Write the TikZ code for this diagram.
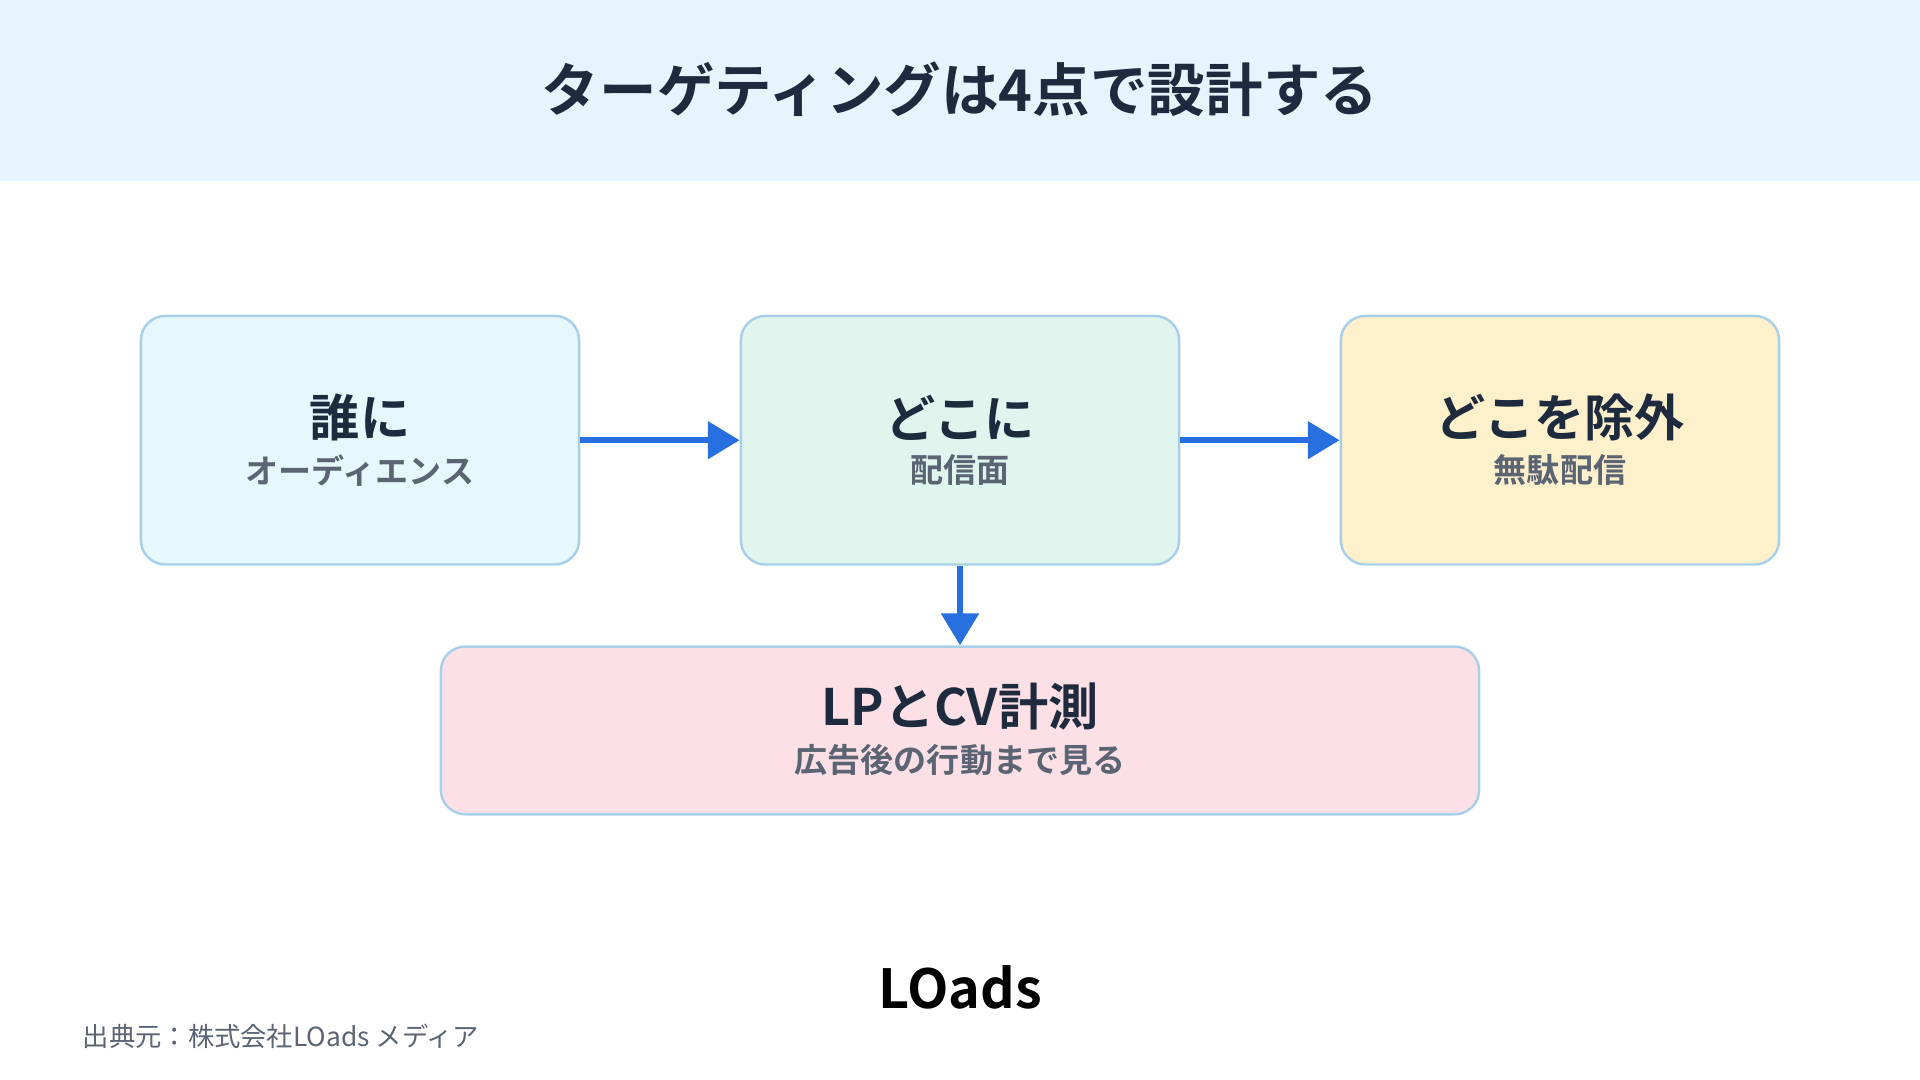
\documentclass[tikz,border=0pt]{standalone}
\usepackage{fontspec}
\newfontfamily\jpb{Noto Sans CJK JP Bold}
\newfontfamily\jp{Noto Sans CJK JP}
\usetikzlibrary{arrows.meta}
\definecolor{hdr}{HTML}{E8F4FD}
\definecolor{bd}{HTML}{A8CFEA}
\definecolor{ink}{HTML}{1E2A3E}
\definecolor{sub}{HTML}{5A6473}
\definecolor{arr}{HTML}{2870E0}
\definecolor{fa}{HTML}{E6F7FD}
\definecolor{fb}{HTML}{E0F5EE}
\definecolor{fc}{HTML}{FFF0CC}
\definecolor{fd}{HTML}{FDE0E5}
\begin{document}
\begin{tikzpicture}[x=1pt,y=-1pt,
 box/.style={draw=bd,line width=2pt,rounded corners=20pt,align=center,inner sep=0pt},
 con/.style={draw=arr,line width=5pt,-{Triangle[length=26pt,width=30pt]}},
 main/.style={font=\jpb\fontsize{41}{46}\selectfont,text=ink},
 sb/.style={font=\jpb\fontsize{27}{32}\selectfont,text=sub}]
\useasboundingbox (0,0) rectangle (1568,882);
\fill[hdr] (0,0) rectangle (1568,148);
\node[font=\jpb\fontsize{47}{52}\selectfont,text=ink] (title) at (784,73) {ターゲティングは4点で設計する};
\node[box,fill=fa,minimum width=358pt,minimum height=203pt] (a) at (294,359.5) {};
\node[box,fill=fb,minimum width=358pt,minimum height=203pt] (b) at (784,359.5) {};
\node[box,fill=fc,minimum width=358pt,minimum height=203pt] (c) at (1274,359.5) {};
\node[box,fill=fd,minimum width=848pt,minimum height=137pt] (d) at (784,596.5) {};
\node[main] (a1) at (294,341) {誰に};
\node[sb] (a2) at (294,384) {オーディエンス};
\node[main] (b1) at (784,341) {どこに};
\node[sb] (b2) at (784,384) {配信面};
\node[main] (c1) at (1274,341) {どこを除外};
\node[sb] (c2) at (1274,384) {無駄配信};
\node[main] (d1) at (784,577) {LPとCV計測};
\node[sb] (d2) at (784,621) {広告後の行動まで見る};
\draw[con] (a.east) -- (b.west);
\draw[con] (b.east) -- (c.west);
\draw[con] (b.south) -- (d.north);
\node[font=\jpb\fontsize{44}{50}\selectfont,text=black] (logo) at (784,806) {LOads};
\node[anchor=west,font=\jp\fontsize{21.5}{26}\selectfont,text=sub] (src) at (64,846) {出典元：株式会社LOads メディア};
\end{tikzpicture}
\end{document}
